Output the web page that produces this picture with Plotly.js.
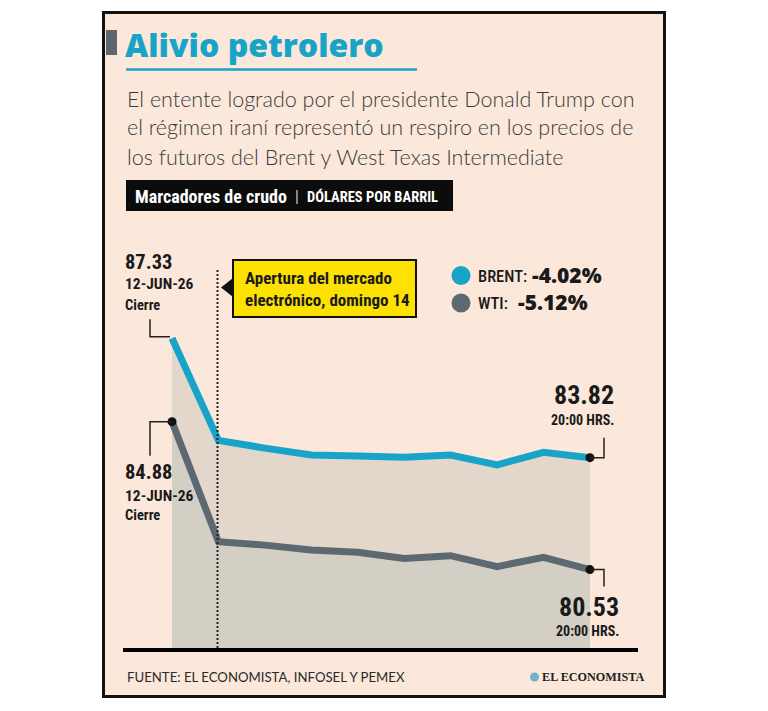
<!DOCTYPE html>
<html>
<head>
<meta charset="utf-8">
<script src="https://cdn.plot.ly/plotly-3.0.1.min.js"></script>
<style>
  html, body { margin: 0; padding: 0; background: #ffffff; }
  #chart { width: 768px; height: 711px; }
</style>
</head>
<body>
<div id="chart"></div>
<script>
// Crude oil markers, dollars per barrel: Friday close, then the electronic session from Sunday 14
const pointIndex = [0, 1, 2, 3, 4, 5, 6, 7, 8, 9];
const brentValues = [87.33, 84.33, 84.10, 83.90, 83.87, 83.83, 83.90, 83.61, 83.98, 83.82];
const wtiValues = [84.88, 81.35, 81.25, 81.11, 81.04, 80.86, 80.94, 80.62, 80.89, 80.53];
const seriesNames = ['BRENT', 'WTI'];
const openLabel = ['Apertura del mercado', 'electrónico, domingo 14'];
const openIndex = 1;
const startLabel = ['12-JUN-26', 'Cierre'];
const endLabel = '20:00 HRS.';

const BLUE = '#18a3c8';
const GRAY = '#5c6970';
const INK = '#1a1a1a';
const NARROW = '"Roboto Condensed", Roboto, sans-serif';
const HEAVY = '"Open Sans", "Noto Sans", sans-serif';
const LIGHT = 'Lato, "Open Sans", sans-serif';

// Page geometry: the plot area sits inside a framed card
const W = 768, H = 711, L = 123, R = 130, T = 250, B = 63;
const PW = W - L - R, PH = H - T - B;
const fx = p => (p - L) / PW;
const fy = p => (H - B - p) / PH;

const pct = v => ((v[v.length - 1] / v[0] - 1) * 100).toFixed(2) + '%';
const last = pointIndex.length - 1;

const traces = [
  {
    x: pointIndex, y: brentValues, name: seriesNames[0], type: 'scatter', mode: 'lines',
    line: { color: BLUE, width: 7, shape: 'linear' },
    fill: 'tozeroy', fillcolor: '#e3d7cb', hoverinfo: 'skip'
  },
  {
    x: pointIndex, y: wtiValues, name: seriesNames[1], type: 'scatter', mode: 'lines',
    line: { color: GRAY, width: 7, shape: 'linear' },
    fill: 'tozeroy', fillcolor: '#d4cfc5', hoverinfo: 'skip'
  },
  {
    x: [pointIndex[0], pointIndex[last], pointIndex[last]],
    y: [wtiValues[0], brentValues[last], wtiValues[last]],
    type: 'scatter', mode: 'markers',
    marker: { color: '#111111', size: 9 }, hoverinfo: 'skip'
  }
];

function paperText(text, px, py, font, opts) {
  return Object.assign({
    text: text, xref: 'paper', yref: 'paper', x: fx(px), y: fy(py),
    xanchor: 'left', yanchor: 'middle', showarrow: false, font: font
  }, opts || {});
}

function pointText(text, xi, yv, dx, dy, size, anchor) {
  return {
    text: text, xref: 'x', yref: 'y', x: xi, y: yv, xshift: dx, yshift: dy,
    xanchor: anchor, yanchor: 'middle', showarrow: false,
    font: { family: NARROW, size: size, color: INK, weight: 700 }
  };
}

function leader(xi, yv, path) {
  return {
    type: 'path', xref: 'x', yref: 'y', xsizemode: 'pixel', ysizemode: 'pixel',
    xanchor: xi, yanchor: yv, path: path, line: { color: '#222222', width: 1.5 }
  };
}

const subFont = { family: LIGHT, size: 21.5, color: '#3a3a3a', weight: 300 };
const keyFont = { family: NARROW, size: 16.5, color: INK, weight: 500 };
const pctFont = { family: HEAVY, size: 21, color: INK, weight: 800 };

const annotations = [
  // Heading block
  paperText('Alivio petrolero', 123, 44, { family: HEAVY, size: 32, color: BLUE, weight: 800 }),
  paperText('El entente logrado por el presidente Donald Trump con', 125, 98.5, subFont),
  paperText('el régimen iraní representó un respiro en los precios de', 125, 127.5, subFont),
  paperText('los futuros del Brent y West Texas Intermediate', 125, 156.5, subFont),
  paperText('Marcadores de crudo', 133, 196, { family: NARROW, size: 18, color: '#ffffff', weight: 700 }),
  paperText('|', 293, 196, { family: NARROW, size: 17, color: '#ffffff', weight: 300 }),
  paperText('DÓLARES POR BARRIL', 305, 197, { family: NARROW, size: 14.5, color: '#ffffff', weight: 700 }),

  // Callout for the market opening
  paperText(openLabel.join('<br>'), 243, 289, { family: NARROW, size: 17, color: INK, weight: 700 }, { align: 'left' }),

  // Key with percentage change over the period
  paperText(seriesNames[0] + ':', 476, 276.5, keyFont),
  paperText(pct(brentValues), 530, 274.5, pctFont),
  paperText(seriesNames[1] + ':', 476, 303.5, keyFont),
  paperText(pct(wtiValues), 516, 301.5, pctFont),

  // Start and end values
  pointText(brentValues[0].toFixed(2), 0, brentValues[0], -49, 76, 20.5, 'left'),
  pointText(startLabel[0], 0, brentValues[0], -49, 54, 15.5, 'left'),
  pointText(startLabel[1], 0, brentValues[0], -49, 33, 14.5, 'left'),
  pointText(wtiValues[0].toFixed(2), 0, wtiValues[0], -49, -50, 20.5, 'left'),
  pointText(startLabel[0], 0, wtiValues[0], -49, -74, 15.5, 'left'),
  pointText(startLabel[1], 0, wtiValues[0], -49, -94, 14.5, 'left'),
  pointText(brentValues[last].toFixed(2), last, brentValues[last], 26, 63, 26, 'right'),
  pointText(endLabel, last, brentValues[last], 26, 38, 14, 'right'),
  pointText(wtiValues[last].toFixed(2), last, wtiValues[last], 31, -37, 26, 'right'),
  pointText(endLabel, last, wtiValues[last], 31, -61, 14, 'right'),

  // Source line and masthead
  paperText('FUENTE: EL ECONOMISTA, INFOSEL Y PEMEX', 125, 677, { family: LIGHT, size: 13.2, color: '#2a2a2a', weight: 400 }),
  paperText('EL ECONOMISTA', 540, 677, { family: '"Liberation Serif", serif', size: 12.2, color: '#222222', weight: 700 })
];

const shapes = [
  // Card
  { type: 'rect', xref: 'paper', yref: 'paper', x0: fx(103.5), x1: fx(664.5), y0: fy(12.5), y1: fy(696.5),
    fillcolor: '#fbe8da', line: { color: '#111111', width: 3 }, layer: 'below' },
  { type: 'rect', xref: 'paper', yref: 'paper', x0: fx(106), x1: fx(117), y0: fy(30), y1: fy(55),
    fillcolor: '#5e676d', line: { width: 0 }, layer: 'below' },
  { type: 'line', xref: 'paper', yref: 'paper', x0: fx(126), x1: fx(417), y0: fy(69.5), y1: fy(69.5),
    line: { color: BLUE, width: 2.5 } },
  { type: 'rect', xref: 'paper', yref: 'paper', x0: fx(126), x1: fx(453), y0: fy(180), y1: fy(211),
    fillcolor: '#0c0c0c', line: { width: 0 }, layer: 'below' },

  // Market opening marker and callout box
  { type: 'line', xref: 'x', yref: 'paper', x0: openIndex - 0.02, x1: openIndex - 0.02, y0: 0, y1: fy(268),
    line: { color: '#222222', width: 2, dash: '2px,2px' } },
  { type: 'rect', xref: 'paper', yref: 'paper', x0: fx(233), x1: fx(416), y0: fy(260), y1: fy(317),
    fillcolor: '#fde100', line: { color: '#111111', width: 2 } },
  { type: 'path', xref: 'paper', yref: 'paper',
    path: 'M ' + fx(233) + ' ' + fy(278) + ' L ' + fx(221) + ' ' + fy(287.5) + ' L ' + fx(233) + ' ' + fy(297) + ' Z',
    fillcolor: '#111111', line: { width: 0 } },

  // Key dots
  { type: 'circle', xref: 'paper', yref: 'paper', x0: fx(451.5), x1: fx(470.5), y0: fy(266), y1: fy(285),
    fillcolor: BLUE, line: { width: 0 } },
  { type: 'circle', xref: 'paper', yref: 'paper', x0: fx(451.5), x1: fx(470.5), y0: fy(293.5), y1: fy(312.5),
    fillcolor: GRAY, line: { width: 0 } },

  // Masthead logo
  { type: 'circle', xref: 'paper', yref: 'paper', x0: fx(530), x1: fx(539), y0: fy(672.5), y1: fy(681.5),
    fillcolor: '#6fb3cf', line: { width: 0 } },

  // Leader lines to start and end values
  leader(0, brentValues[0], 'M -2,1.5 L -22,1.5 L -22,19'),
  leader(0, wtiValues[0], 'M 0,0 L -22,0 L -22,-34'),
  leader(last, brentValues[last], 'M 0,0 L 14,0 L 14,20'),
  leader(last, wtiValues[last], 'M 0,0 L 14,0 L 14,-17')
];

const layout = {
  width: W, height: H,
  margin: { l: L, r: R, t: T, b: B, pad: 0 },
  paper_bgcolor: '#ffffff',
  plot_bgcolor: 'rgba(0,0,0,0)',
  showlegend: false,
  xaxis: {
    range: [-1.055, 10.034], showgrid: false, zeroline: false, showticklabels: false,
    ticks: '', showline: true, linecolor: '#000000', linewidth: 4, fixedrange: true
  },
  yaxis: {
    range: [78.226, 89.925], visible: false, showgrid: false, zeroline: false, fixedrange: true
  },
  shapes: shapes,
  annotations: annotations
};

Plotly.newPlot('chart', traces, layout, { displayModeBar: false, staticPlot: true });
</script>
</body>
</html>
